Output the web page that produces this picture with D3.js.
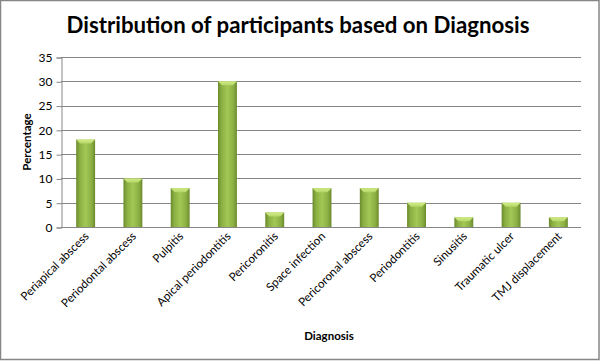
<!DOCTYPE html>
<html><head><meta charset="utf-8">
<script src="https://cdn.jsdelivr.net/npm/d3@7"></script>
<style>body{margin:0;background:#fff}svg{display:block}text{font-family:Lato,"Open Sans",sans-serif}</style>
</head><body><div id="chart"></div>
<script>
const categories = ["Periapical abscess","Periodontal abscess","Pulpitis","Apical periodontitis","Pericoronitis","Space infection","Pericoronal abscess","Periodontitis","Sinusitis","Traumatic ulcer","TMJ displacement"];
const values = [18,10,8,30,3,8,8,5,2,5,2];
const yTicks = [0,5,10,15,20,25,30,35];
const title = "Distribution of participants based on Diagnosis";
const xTitle = "Diagnosis";
const yTitle = "Percentage";

const W=605,H=361;
const svg=d3.select("#chart").append("svg").attr("width",W).attr("height",H);
svg.append("rect").attr("x",0).attr("y",0).attr("width",W).attr("height",H).attr("fill","#fff");
svg.append("rect").attr("x",0.5).attr("y",0.5).attr("width",598.5).attr("height",359).attr("fill","none").attr("stroke","#868686").attr("stroke-width",1.5);

const defs=svg.append("defs");
const g1=defs.append("linearGradient").attr("id","barg").attr("x1",0).attr("x2",1).attr("y1",0).attr("y2",0);
[[0,"#6a8a2c"],[0.18,"#8aae42"],[0.5,"#a3c856"],[0.82,"#8aae42"],[1,"#6a8a2c"]].forEach(d=>g1.append("stop").attr("offset",d[0]).attr("stop-color",d[1]));
const g2=defs.append("linearGradient").attr("id","topg").attr("x1",0).attr("x2",0).attr("y1",0).attr("y2",1);
[[0,"#d2ec86"],[1,"#b5d768"]].forEach(d=>g2.append("stop").attr("offset",d[0]).attr("stop-color",d[1]));

const x=d3.scaleBand().domain(categories).range([62,582]).paddingInner(0.6).paddingOuter(0.3);
const y=d3.scaleLinear().domain([0,35]).range([227,57]);

svg.append("g").selectAll("line").data(yTicks.filter(t=>t>0)).join("line")
 .attr("x1",61).attr("x2",581).attr("y1",d=>Math.round(y(d))+0.5).attr("y2",d=>Math.round(y(d))+0.5)
 .attr("stroke","#868686").attr("stroke-width",1);

const ya=svg.append("g").attr("transform","translate(61.5,0.5)").call(d3.axisLeft(y).tickValues(yTicks).tickSize(5).tickPadding(4));
ya.select(".domain").attr("stroke","#868686");
ya.selectAll(".tick line").attr("stroke","#868686");
ya.selectAll(".tick text").attr("font-size",12).attr("fill","#000").style("font-family","Lato,sans-serif");

const bars=svg.append("g").selectAll("g").data(values).join("g");
bars.append("rect").attr("x",(d,i)=>x(categories[i])).attr("y",d=>y(d)).attr("width",x.bandwidth()).attr("height",d=>y(0)-y(d)).attr("fill","url(#barg)");
bars.append("path").attr("d",(d,i)=>{const x0=x(categories[i]),w=x.bandwidth(),t=y(d),b=Math.min(4,(y(0)-y(d))/2);
  return `M${x0},${t}L${x0+w},${t}L${x0+w-4},${t+b}L${x0+4},${t+b}Z`;}).attr("fill","url(#topg)");

svg.append("line").attr("x1",61).attr("x2",581).attr("y1",227.5).attr("y2",227.5).attr("stroke","#868686");

svg.append("g").selectAll("text").data(categories).join("text")
 .attr("transform",d=>`translate(${x(d)+x.bandwidth()/2+4},${237}) rotate(-45)`)
 .attr("text-anchor","end").attr("font-size",11.6).attr("fill","#000").text(d=>d);

svg.append("text").attr("x",298).attr("y",33).attr("text-anchor","middle").attr("font-size",22).attr("font-weight","bold")
 .attr("textLength",463).attr("lengthAdjust","spacingAndGlyphs").text(title);
svg.append("text").attr("x",329).attr("y",340).attr("text-anchor","middle").attr("font-size",11.5).attr("font-weight","bold").text(xTitle);
svg.append("text").attr("transform","translate(31,142) rotate(-90)").attr("text-anchor","middle").attr("font-size",11.5).attr("font-weight","bold").text(yTitle);
</script></body></html>
